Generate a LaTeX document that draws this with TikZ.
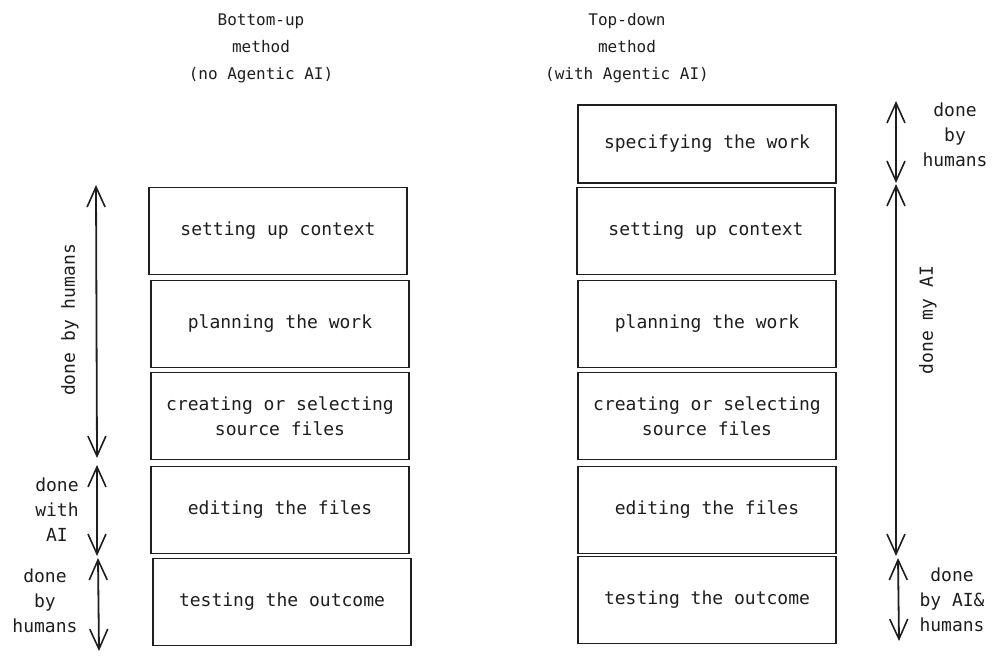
\documentclass[tikz,border=0pt]{standalone}
\usepackage{fontspec}
\setmainfont{DejaVu Sans Mono}
\usetikzlibrary{arrows.meta,positioning}
\definecolor{ink}{HTML}{1E1E1E}
\tikzset{
    stage/.style={draw=ink, line width=1.6pt, minimum width=258pt, minimum height=87pt,
        inner sep=0pt, align=center, text=ink, font=\fontsize{18}{25}\selectfont},
    head/.style={align=center, text=ink, font=\fontsize{16}{27}\selectfont},
    side/.style={align=center, text=ink, font=\fontsize{18}{25}\selectfont},
    span/.style={draw=ink, line width=1.8pt,
        {Straight Barb[length=20pt,width=18pt,line width=1.6pt]}-{Straight Barb[length=20pt,width=18pt,line width=1.6pt]}}
}

\begin{document}
\begin{tikzpicture}[x=1pt,y=-1pt]
\useasboundingbox (0,0) rectangle (1000,660);
% titles
\node[head] (tBU) at (261,48) {Bottom-up\\method\\(no Agentic AI)};
\node[head] (tTD) at (627,48) {Top-down\\method\\(with Agentic AI)};
% bottom-up column
\node[stage] (bCtx)  at (278,231) {setting up context};
\node[stage] (bPlan) at (280,324) {planning the work};
\node[stage] (bSrc)  at (280,416) {creating or selecting\\source files};
\node[stage] (bEdit) at (280,510) {editing the files};
\node[stage] (bTest) at (282,602) {testing the outcome};
% top-down column
\node[stage,minimum height=78pt] (tSpec) at (707,144) {specifying the work};
\node[stage] (tCtx)  at (706,231) {setting up context};
\node[stage] (tPlan) at (707,324) {planning the work};
\node[stage] (tSrc)  at (707,416) {creating or selecting\\source files};
\node[stage] (tEdit) at (707,510) {editing the files};
\node[stage] (tTest) at (707,600) {testing the outcome};
% arrow ends
\coordinate (bA1) at (96,185);  \coordinate (bA2) at (97,458);
\coordinate (bB1) at (97,465);  \coordinate (bB2) at (97,556);
\coordinate (bC1) at (98,558);  \coordinate (bC2) at (99,651);
\coordinate (tA1) at (896,101); \coordinate (tA2) at (896,183);
\coordinate (tB1) at (896,184); \coordinate (tB2) at (896,556);
\coordinate (tC1) at (898,558); \coordinate (tC2) at (899,641);
\draw[span] (bA1) -- (bA2);
\draw[span] (bB1) -- (bB2);
\draw[span] (bC1) -- (bC2);
\draw[span] (tA1) -- (tA2);
\draw[span] (tB1) -- (tB2);
\draw[span] (tC1) -- (tC2);
% labels
\node[side,rotate=90] (lHum) at (70,320) {done by humans};
\node[side] (lWith) at (57,510) {done\\with\\AI};
\node[side] (lHum2) at (45,601) {done\\by\\humans};
\node[side] (rHum) at (955,135) {done\\by\\humans};
\node[side,rotate=90] (rAI) at (928,320) {done my AI};
\node[side] (rMix) at (952,600) {done\\by AI\&\\humans};
\end{tikzpicture}
\end{document}
